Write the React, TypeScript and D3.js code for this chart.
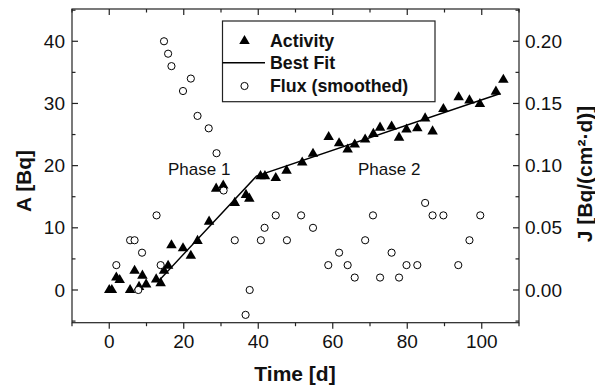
import React from "react";
import * as d3 from "d3";

const activityT = [0, 0.7, 1.9, 2.8, 5.6, 6.8, 8, 8.9, 9.9, 12.6, 13.8, 14.7, 15.8, 16.7, 19.8, 21.9, 23.7, 26.8, 28.7, 30.6, 33.7, 36.7, 37.6, 40.6, 41.8, 44.7, 47.6, 51.8, 54.7, 58.9, 61.7, 64, 65.9, 68.7, 70.9, 72.7, 75.8, 77.8, 79.8, 82.7, 84.8, 86.8, 89.7, 93.8, 96.7, 99.5, 103.8, 105.8];
const activityA = [0, 0, 2.0, 1.6, 0, 3.1, 0.5, 2.3, 0.9, 1.7, 1.1, 3.1, 3.9, 7.2, 6.7, 5.5, 7.9, 11.0, 16.3, 16.8, 14.0, 15.3, 14.7, 18.3, 18.3, 18.0, 19.2, 20.5, 21.9, 24.6, 23.6, 22.6, 23.4, 24.2, 25.1, 26.1, 26.3, 24.5, 25.8, 26.0, 27.6, 25.5, 29.1, 31.0, 30.5, 29.9, 31.9, 33.8];

const fluxT = [1.9, 5.6, 6.8, 7.8, 8.8, 12.7, 13.8, 14.7, 15.8, 16.7, 19.8, 21.9, 23.7, 26.7, 28.8, 30.7, 33.7, 36.6, 37.7, 40.7, 41.7, 44.7, 47.7, 51.5, 54.7, 58.8, 61.7, 64, 65.9, 68.7, 70.8, 72.7, 75.8, 77.8, 79.8, 82.7, 84.8, 86.8, 89.7, 93.7, 96.7, 99.6];
const fluxJ = [0.02, 0.04, 0.04, 0.0, 0.03, 0.06, 0.02, 0.20, 0.19, 0.18, 0.16, 0.17, 0.14, 0.13, 0.11, 0.08, 0.04, -0.02, 0.0, 0.04, 0.05, 0.06, 0.04, 0.06, 0.05, 0.02, 0.03, 0.02, 0.01, 0.04, 0.06, 0.01, 0.03, 0.01, 0.02, 0.02, 0.07, 0.06, 0.06, 0.02, 0.04, 0.06];

const fitT = [13, 39.5, 105];
const fitA = [1.3, 18.3, 31.6];

const xTicks = [0, 20, 40, 60, 80, 100];
const xMinor = [-10, 10, 30, 50, 70, 90, 110];
const yTicks = [0, 10, 20, 30, 40];
const yMinor = [-5, 5, 15, 25, 35, 45];
const jTicks = [0.0, 0.05, 0.1, 0.15, 0.2];
const jMinor = [-0.025, 0.025, 0.075, 0.125, 0.175, 0.225];

const legendItems = ["Activity", "Best Fit", "Flux (smoothed)"];

const FONT = "'Liberation Sans', Arial, Helvetica, sans-serif";

export default function App() {
  const W = 595, H = 388;
  const L = 72, R = 519, T = 9, B = 322.7;
  const x = d3.scaleLinear().domain([-10, 110]).range([L, R]);
  const y = d3.scaleLinear().domain([-5.26, 45.19]).range([B, T]);
  const yJ = d3.scaleLinear().domain([-5.26 / 200, 45.19 / 200]).range([B, T]);
  const line = d3.line<number>().x((d, i) => x(fitT[i])).y((d) => y(d));
  const tri = d3.symbol().type(d3.symbolTriangle).size(48)();
  const axisColor = "#222";
  const maj = 6, mnr = 3.5;

  return (
    <svg width={W} height={H} style={{ position: "absolute", left: 0, top: 0, background: "#fff" }} fontFamily={FONT}>
      <rect x={0} y={0} width={W} height={H} fill="#fff" />
      {/* frame */}
      <rect x={L} y={T} width={R - L} height={B - T} fill="none" stroke={axisColor} strokeWidth={1.2} />
      {/* bottom ticks (outward) and top ticks (inward) */}
      {xTicks.map((t) => (
        <g key={"xt" + t}>
          <line x1={x(t)} x2={x(t)} y1={B} y2={B + maj} stroke={axisColor} strokeWidth={1.2} />
          <line x1={x(t)} x2={x(t)} y1={T} y2={T + maj} stroke={axisColor} strokeWidth={1.2} />
          <text x={x(t)} y={348} fontSize={19} textAnchor="middle" fill="#111">{t}</text>
        </g>
      ))}
      {xMinor.map((t) => (
        <g key={"xm" + t}>
          <line x1={x(t)} x2={x(t)} y1={B} y2={B + mnr} stroke={axisColor} strokeWidth={1.2} />
          <line x1={x(t)} x2={x(t)} y1={T} y2={T + mnr} stroke={axisColor} strokeWidth={1.2} />
        </g>
      ))}
      {/* left ticks */}
      {yTicks.map((v) => (
        <g key={"yt" + v}>
          <line x1={L} x2={L + maj} y1={y(v)} y2={y(v)} stroke={axisColor} strokeWidth={1.2} />
          <text x={65} y={y(v)} dy="0.35em" fontSize={19} textAnchor="end" fill="#111">{v}</text>
        </g>
      ))}
      {yMinor.map((v) => (
        <line key={"ym" + v} x1={L} x2={L + mnr} y1={y(v)} y2={y(v)} stroke={axisColor} strokeWidth={1.2} />
      ))}
      {/* right ticks */}
      {jTicks.map((v) => (
        <g key={"jt" + v}>
          <line x1={R} x2={R - maj} y1={yJ(v)} y2={yJ(v)} stroke={axisColor} strokeWidth={1.2} />
          <text x={525} y={yJ(v)} dy="0.35em" fontSize={19} textAnchor="start" fill="#111">{v.toFixed(2)}</text>
        </g>
      ))}
      {jMinor.map((v) => (
        <line key={"jm" + v} x1={R} x2={R - mnr} y1={yJ(v)} y2={yJ(v)} stroke={axisColor} strokeWidth={1.2} />
      ))}

      {/* axis titles */}
      <text x={295} y={381} fontSize={21} fontWeight="bold" textAnchor="middle" fill="#111">Time [d]</text>
      <text transform={`translate(31,181) rotate(-90)`} fontSize={21} fontWeight="bold" textAnchor="middle" fill="#111">A [Bq]</text>
      <text transform={`translate(592,174) rotate(-90)`} fontSize={21} fontWeight="bold" textAnchor="middle" fill="#111">J [Bq/(cm²·d)]</text>

      {/* phase labels */}
      <text x={168} y={175} fontSize={17} fill="#111">Phase 1</text>
      <text x={358} y={175} fontSize={17} fill="#111">Phase 2</text>

      {/* activity triangles */}
      {activityA.map((a, i) => (
        <path key={"a" + i} d={tri!} transform={`translate(${x(activityT[i])},${y(a)})`} fill="#000" />
      ))}
      {/* best fit */}
      <path d={line(fitA)!} fill="none" stroke="#000" strokeWidth={1.4} />
      {/* flux circles */}
      {fluxJ.map((j, i) => (
        <circle key={"f" + i} cx={x(fluxT[i])} cy={yJ(j)} r={3.6} fill="#fff" stroke="#000" strokeWidth={1} />
      ))}

      {/* legend */}
      <g>
        <rect x={222.5} y={21} width={212.5} height={80.7} fill="#fff" stroke={axisColor} strokeWidth={1.2} />
        <path d={tri!} transform={`translate(244.5,41)`} fill="#000" />
        <line x1={222.5} x2={265} y1={62.7} y2={62.7} stroke="#000" strokeWidth={1.4} />
        <circle cx={244.5} cy={86} r={3.6} fill="#fff" stroke="#000" strokeWidth={1} />
        {legendItems.map((s, i) => (
          <text key={s} x={270} y={[41, 62.7, 86][i]} dy="0.35em" fontSize={17.8} fontWeight="bold" fill="#111">{s}</text>
        ))}
      </g>
    </svg>
  );
}
